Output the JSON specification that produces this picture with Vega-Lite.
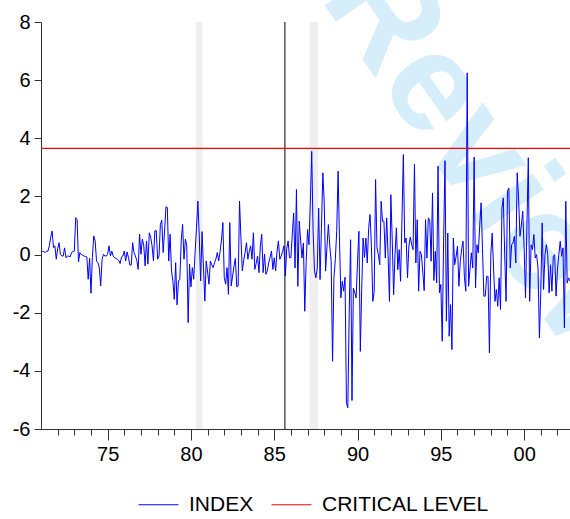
{
  "$schema": "https://vega.github.io/schema/vega-lite/v6.json",
  "width": 529,
  "height": 407,
  "autosize": {"type": "none"},
  "padding": {"left": 41, "top": 22, "right": 0, "bottom": 90},
  "background": "white",
  "config": {"view": {"stroke": null}, "font": "Liberation Sans"},
  "datasets": {
    "index": [
      {"t":1971,"v":0.12},{"t":1971.083,"v":0.11},{"t":1971.167,"v":0.10},{"t":1971.25,"v":0.07},{"t":1971.333,"v":0.12},{"t":1971.417,"v":0.12},{"t":1971.5,"v":0.3},{"t":1971.583,"v":0.6},{"t":1971.667,"v":0.81},{"t":1971.75,"v":0.24},{"t":1971.833,"v":0.30},{"t":1971.917,"v":-0.16},
      {"t":1972,"v":0.2},{"t":1972.083,"v":0.41},{"t":1972.167,"v":0.0},{"t":1972.25,"v":-0.05},{"t":1972.333,"v":-0.05},{"t":1972.417,"v":0.23},{"t":1972.5,"v":-0.11},{"t":1972.583,"v":-0.05},{"t":1972.667,"v":-0.05},{"t":1972.75,"v":-0.08},{"t":1972.833,"v":0.07},{"t":1972.917,"v":0.10},
      {"t":1973,"v":0.12},{"t":1973.083,"v":1.27},{"t":1973.167,"v":1.2},{"t":1973.25,"v":-0.25},{"t":1973.333,"v":0.07},{"t":1973.417,"v":0.0},{"t":1973.5,"v":-0.02},{"t":1973.583,"v":-0.05},{"t":1973.667,"v":-0.07},{"t":1973.75,"v":-0.08},{"t":1973.833,"v":-0.85},{"t":1973.917,"v":-0.13},
      {"t":1974,"v":-1.33},{"t":1974.083,"v":-0.1},{"t":1974.167,"v":0.64},{"t":1974.25,"v":0.47},{"t":1974.333,"v":-0.22},{"t":1974.417,"v":-0.28},{"t":1974.5,"v":-0.45},{"t":1974.583,"v":-1.08},{"t":1974.667,"v":-0.16},{"t":1974.75,"v":0.01},{"t":1974.833,"v":-0.05},{"t":1974.917,"v":-0.05},
      {"t":1975,"v":0.01},{"t":1975.083,"v":0.30},{"t":1975.167,"v":-0.05},{"t":1975.25,"v":0.12},{"t":1975.333,"v":-0.05},{"t":1975.417,"v":-0.11},{"t":1975.5,"v":-0.13},{"t":1975.583,"v":-0.16},{"t":1975.667,"v":-0.20},{"t":1975.75,"v":-0.31},{"t":1975.833,"v":-0.08},{"t":1975.917,"v":-0.05},
      {"t":1976,"v":0.12},{"t":1976.083,"v":-0.22},{"t":1976.167,"v":0.09},{"t":1976.25,"v":-0.1},{"t":1976.333,"v":-0.36},{"t":1976.417,"v":-0.36},{"t":1976.5,"v":0.41},{"t":1976.583,"v":0.07},{"t":1976.667,"v":-0.05},{"t":1976.75,"v":-0.2},{"t":1976.833,"v":-0.51},{"t":1976.917,"v":0.70},
      {"t":1977,"v":0.01},{"t":1977.083,"v":0.53},{"t":1977.167,"v":0.33},{"t":1977.25,"v":-0.39},{"t":1977.333,"v":0.47},{"t":1977.417,"v":-0.33},{"t":1977.5,"v":0.75},{"t":1977.583,"v":0.6},{"t":1977.667,"v":0.3},{"t":1977.75,"v":-0.22},{"t":1977.833,"v":0.81},{"t":1977.917,"v":0.83},
      {"t":1978,"v":-0.16},{"t":1978.083,"v":-0.05},{"t":1978.167,"v":1.04},{"t":1978.25,"v":1.18},{"t":1978.333,"v":0.07},{"t":1978.417,"v":0.81},{"t":1978.5,"v":1.64},{"t":1978.583,"v":1.62},{"t":1978.667,"v":-0.22},{"t":1978.75,"v":0.70},{"t":1978.833,"v":-0.56},{"t":1978.917,"v":-0.91},
      {"t":1979,"v":-1.54},{"t":1979.083,"v":-0.28},{"t":1979.167,"v":-1.73},{"t":1979.25,"v":-0.91},{"t":1979.333,"v":-0.85},{"t":1979.417,"v":0.47},{"t":1979.5,"v":1.04},{"t":1979.583,"v":-0.16},{"t":1979.667,"v":0.53},{"t":1979.75,"v":0.3},{"t":1979.833,"v":-2.34},{"t":1979.917,"v":-0.33},
      {"t":1980,"v":-1.11},{"t":1980.083,"v":-0.45},{"t":1980.167,"v":-0.85},{"t":1980.25,"v":0.07},{"t":1980.333,"v":0.9},{"t":1980.417,"v":1.84},{"t":1980.5,"v":0.64},{"t":1980.583,"v":-0.91},{"t":1980.667,"v":0.79},{"t":1980.75,"v":-0.4},{"t":1980.833,"v":-1.60},{"t":1980.917,"v":-0.22},
      {"t":1981,"v":-0.6},{"t":1981.083,"v":-1.02},{"t":1981.167,"v":-0.22},{"t":1981.25,"v":-0.35},{"t":1981.333,"v":-0.45},{"t":1981.417,"v":-0.28},{"t":1981.5,"v":-0.15},{"t":1981.583,"v":0.07},{"t":1981.667,"v":-0.22},{"t":1981.75,"v":0.1},{"t":1981.833,"v":0.5},{"t":1981.917,"v":1.10},
      {"t":1982,"v":-0.79},{"t":1982.083,"v":-1.02},{"t":1982.167,"v":-0.45},{"t":1982.25,"v":-1.37},{"t":1982.333,"v":1.10},{"t":1982.417,"v":-1.08},{"t":1982.5,"v":-0.74},{"t":1982.583,"v":-0.4},{"t":1982.667,"v":-0.13},{"t":1982.75,"v":-1.11},{"t":1982.833,"v":-1.08},{"t":1982.917,"v":1.84},
      {"t":1983,"v":0.6},{"t":1983.083,"v":-0.56},{"t":1983.167,"v":-0.2},{"t":1983.25,"v":0.07},{"t":1983.333,"v":0.41},{"t":1983.417,"v":-0.16},{"t":1983.5,"v":0.1},{"t":1983.583,"v":0.30},{"t":1983.667,"v":-0.16},{"t":1983.75,"v":0.75},{"t":1983.833,"v":-0.51},{"t":1983.917,"v":-0.3},
      {"t":1984,"v":-0.05},{"t":1984.083,"v":-0.62},{"t":1984.167,"v":0.3},{"t":1984.25,"v":0.70},{"t":1984.333,"v":-0.62},{"t":1984.417,"v":0.01},{"t":1984.5,"v":-0.68},{"t":1984.583,"v":-0.56},{"t":1984.667,"v":-0.28},{"t":1984.75,"v":-0.1},{"t":1984.833,"v":0.12},{"t":1984.917,"v":-0.51},
      {"t":1985,"v":-0.11},{"t":1985.083,"v":-0.56},{"t":1985.167,"v":0.1},{"t":1985.25,"v":0.47},{"t":1985.333,"v":-0.16},{"t":1985.417,"v":-0.05},{"t":1985.5,"v":0.1},{"t":1985.583,"v":0.30},{"t":1985.667,"v":-0.74},{"t":1985.75,"v":0.2},{"t":1985.833,"v":0.47},{"t":1985.917,"v":-0.11},
      {"t":1986,"v":-0.11},{"t":1986.083,"v":0.7},{"t":1986.167,"v":1.43},{"t":1986.25,"v":-0.46},{"t":1986.333,"v":2.24},{"t":1986.417,"v":-1.09},{"t":1986.5,"v":1.15},{"t":1986.583,"v":0.5},{"t":1986.667,"v":-0.12},{"t":1986.75,"v":0.40},{"t":1986.833,"v":-1.95},{"t":1986.917,"v":-0.23},
      {"t":1987,"v":0.86},{"t":1987.083,"v":0.34},{"t":1987.167,"v":1.8},{"t":1987.25,"v":3.55},{"t":1987.333,"v":0.8},{"t":1987.417,"v":-0.57},{"t":1987.5,"v":-0.80},{"t":1987.583,"v":-0.46},{"t":1987.667,"v":1.60},{"t":1987.75,"v":-0.86},{"t":1987.833,"v":0.9},{"t":1987.917,"v":2.81},
      {"t":1988,"v":1.8},{"t":1988.083,"v":-0.57},{"t":1988.167,"v":0.3},{"t":1988.25,"v":1.03},{"t":1988.333,"v":0.3},{"t":1988.417,"v":-0.23},{"t":1988.5,"v":-3.67},{"t":1988.583,"v":-0.8},{"t":1988.667,"v":-0.17},{"t":1988.75,"v":0.8},{"t":1988.833,"v":2.87},{"t":1988.917,"v":0.5},
      {"t":1989,"v":-1.49},{"t":1989.083,"v":-0.92},{"t":1989.167,"v":-1.26},{"t":1989.25,"v":-0.78},{"t":1989.333,"v":-5.10},{"t":1989.417,"v":-5.27},{"t":1989.5,"v":-2.0},{"t":1989.583,"v":0.51},{"t":1989.667,"v":-5.02},{"t":1989.75,"v":-1.15},{"t":1989.833,"v":-1.3},{"t":1989.917,"v":-1.49},
      {"t":1990,"v":-0.23},{"t":1990.083,"v":0.80},{"t":1990.167,"v":-3.33},{"t":1990.25,"v":-1.2},{"t":1990.333,"v":0.57},{"t":1990.417,"v":-0.1},{"t":1990.5,"v":0.57},{"t":1990.583,"v":-0.29},{"t":1990.667,"v":0.9},{"t":1990.75,"v":1.38},{"t":1990.833,"v":0.3},{"t":1990.917,"v":-1.61},
      {"t":1991,"v":-1.26},{"t":1991.083,"v":2.58},{"t":1991.167,"v":0.23},{"t":1991.25,"v":0.0},{"t":1991.333,"v":-0.35},{"t":1991.417,"v":1.83},{"t":1991.5,"v":1.15},{"t":1991.583,"v":1.15},{"t":1991.667,"v":-0.12},{"t":1991.75,"v":1.26},{"t":1991.833,"v":0.0},{"t":1991.917,"v":-1.61},
      {"t":1992,"v":2.06},{"t":1992.083,"v":0.5},{"t":1992.167,"v":-1.38},{"t":1992.25,"v":0.0},{"t":1992.333,"v":0.92},{"t":1992.417,"v":-0.52},{"t":1992.5,"v":0.17},{"t":1992.583,"v":-0.92},{"t":1992.667,"v":1.2},{"t":1992.75,"v":3.44},{"t":1992.833,"v":0.40},{"t":1992.917,"v":0.57},
      {"t":1993,"v":-0.80},{"t":1993.083,"v":0.3},{"t":1993.167,"v":0.6},{"t":1993.25,"v":0.34},{"t":1993.333,"v":0.17},{"t":1993.417,"v":3.10},{"t":1993.5,"v":-0.29},{"t":1993.583,"v":1.20},{"t":1993.667,"v":-1.26},{"t":1993.75,"v":0.11},{"t":1993.833,"v":0.0},{"t":1993.917,"v":-0.6},
      {"t":1994,"v":-1.24},{"t":1994.083,"v":1.2},{"t":1994.167,"v":-0.12},{"t":1994.25,"v":1.26},{"t":1994.333,"v":1.2},{"t":1994.417,"v":-0.23},{"t":1994.5,"v":2.12},{"t":1994.583,"v":-0.89},{"t":1994.667,"v":0.11},{"t":1994.75,"v":-0.98},{"t":1994.833,"v":3.04},{"t":1994.917,"v":-1.32},
      {"t":1995,"v":-1.03},{"t":1995.083,"v":-2.98},{"t":1995.167,"v":0.5},{"t":1995.25,"v":3.23},{"t":1995.333,"v":-2.29},{"t":1995.417,"v":0.74},{"t":1995.5,"v":-2.81},{"t":1995.583,"v":-1.72},{"t":1995.667,"v":-3.27},{"t":1995.75,"v":0.57},{"t":1995.833,"v":-0.35},{"t":1995.917,"v":-0.06},
      {"t":1996,"v":0.29},{"t":1996.083,"v":-1.09},{"t":1996.167,"v":-0.23},{"t":1996.25,"v":0.2},{"t":1996.333,"v":0.46},{"t":1996.417,"v":-0.80},{"t":1996.5,"v":-1.26},{"t":1996.583,"v":6.25},{"t":1996.667,"v":-1.09},{"t":1996.75,"v":-0.5},{"t":1996.833,"v":0.06},{"t":1996.917,"v":-0.46},
      {"t":1997,"v":3.35},{"t":1997.083,"v":-1.15},{"t":1997.167,"v":0.34},{"t":1997.25,"v":0.06},{"t":1997.333,"v":1.0},{"t":1997.417,"v":1.78},{"t":1997.5,"v":0.2},{"t":1997.583,"v":-1.43},{"t":1997.667,"v":-1.43},{"t":1997.75,"v":-0.75},{"t":1997.833,"v":-0.75},{"t":1997.917,"v":-3.38},
      {"t":1998,"v":0.0},{"t":1998.083,"v":0.74},{"t":1998.167,"v":-0.5},{"t":1998.25,"v":-1.61},{"t":1998.333,"v":-1.20},{"t":1998.417,"v":-1.78},{"t":1998.5,"v":-0.80},{"t":1998.583,"v":-1.89},{"t":1998.667,"v":1.60},{"t":1998.75,"v":1.95},{"t":1998.833,"v":0.0},{"t":1998.917,"v":-1.61},
      {"t":1999,"v":2.18},{"t":1999.083,"v":2.29},{"t":1999.167,"v":-0.46},{"t":1999.25,"v":0.34},{"t":1999.333,"v":0.40},{"t":1999.417,"v":0.63},{"t":1999.5,"v":-0.29},{"t":1999.583,"v":2.81},{"t":1999.667,"v":1.95},{"t":1999.75,"v":0.63},{"t":1999.833,"v":1.0},{"t":1999.917,"v":1.49},
      {"t":2000,"v":0.23},{"t":2000.083,"v":-1.49},{"t":2000.167,"v":1.0},{"t":2000.25,"v":3.33},{"t":2000.333,"v":-1.61},{"t":2000.417,"v":0.34},{"t":2000.5,"v":0.17},{"t":2000.583,"v":0.69},{"t":2000.667,"v":-0.12},{"t":2000.75,"v":0.0},{"t":2000.833,"v":-0.46},{"t":2000.917,"v":-2.87},
      {"t":2001,"v":-1.26},{"t":2001.083,"v":1.09},{"t":2001.167,"v":-1.20},{"t":2001.25,"v":0.0},{"t":2001.333,"v":0.34},{"t":2001.417,"v":0.0},{"t":2001.5,"v":-1.32},{"t":2001.583,"v":-0.35},{"t":2001.667,"v":-1.26},{"t":2001.75,"v":-0.06},{"t":2001.833,"v":0.0},{"t":2001.917,"v":-1.43},
      {"t":2002,"v":-0.5},{"t":2002.083,"v":0.0},{"t":2002.167,"v":0.46},{"t":2002.25,"v":-0.06},{"t":2002.333,"v":0.23},{"t":2002.417,"v":-2.52},{"t":2002.5,"v":1.83},{"t":2002.583,"v":-0.98},{"t":2002.667,"v":-0.80},{"t":2002.75,"v":-0.92}
    ],
    "shades": [
      {"s": 1980.29, "e": 1980.70},
      {"s": 1987.11, "e": 1987.63}
    ],
    "marker": [{"label": "Review", "t": 1998.07, "v": 2.87}],
    "breakline": [{"t": 1985.64}],
    "critical": [{"v": 3.65}]
  },
  "layer": [
    {
      "data": {"name": "marker"},
      "mark": {"type": "text", "angle": 55, "fontSize": 140, "fontWeight": "bold", "font": "Liberation Sans", "color": "#d5eefa", "align": "center", "baseline": "middle"},
      "encoding": {
        "x": {"field": "t", "type": "quantitative", "title": null},
        "y": {"field": "v", "type": "quantitative", "title": null},
        "text": {"field": "label"}
      }
    },
    {
      "data": {"name": "shades"},
      "mark": {"type": "rect", "color": "#efefef"},
      "encoding": {
        "x": {"field": "s", "type": "quantitative", "title": null},
        "x2": {"field": "e"}
      }
    },
    {
      "data": {"name": "breakline"},
      "mark": {"type": "rule", "color": "#000000", "strokeWidth": 1},
      "encoding": {
        "x": {"field": "t", "type": "quantitative", "title": null}
      }
    },
    {
      "data": {"name": "index"},
      "mark": {"type": "line", "strokeWidth": 1},
      "encoding": {
        "x": {
          "field": "t", "type": "quantitative", "title": null,
          "scale": {"domain": [1971, 2002.753], "nice": false, "zero": false},
          "axis": {
            "values": [1972,1973,1974,1975,1976,1977,1978,1979,1980,1981,1982,1983,1984,1985,1986,1987,1988,1989,1990,1991,1992,1993,1994,1995,1996,1997,1998,1999,2000,2001,2002],
            "tickCount": 100,
            "labelExpr": "datum.value % 5 == 0 ? substring(toString(datum.value), 2, 4) : ''",
            "tickSize": {"condition": {"test": "datum.value % 5 == 0", "value": 11}, "value": 6},
            "labelPadding": 4,
            "labelFontSize": 20,
            "labelFont": "Liberation Sans",
            "labelColor": "#000000",
            "labelOverlap": false,
            "labelFlush": false,
            "domainColor": "#333333",
            "tickColor": "#333333",
            "grid": false
          }
        },
        "y": {
          "field": "v", "type": "quantitative", "title": null,
          "scale": {"domain": [-6, 8], "nice": false, "zero": false},
          "axis": {
            "values": [-6, -4, -2, 0, 2, 4, 6, 8],
            "tickCount": 100,
            "labelExpr": "toString(datum.value)",
            "tickSize": 7,
            "labelPadding": 4,
            "labelFontSize": 20,
            "labelFont": "Liberation Sans",
            "labelColor": "#000000",
            "labelOverlap": false,
            "domainColor": "#333333",
            "tickColor": "#333333",
            "grid": false
          }
        },
        "color": {
          "datum": "INDEX",
          "scale": {"domain": ["INDEX", "CRITICAL LEVEL"], "range": ["#0000ff", "#ff0000"]},
          "legend": {
            "orient": "none", "legendX": 97, "legendY": 462,
            "direction": "horizontal", "title": null,
            "symbolType": "stroke", "symbolSize": 1600, "symbolStrokeWidth": 1,
            "labelFontSize": 21, "labelFont": "Liberation Sans", "labelColor": "#000000",
            "labelOffset": 10, "columnPadding": 15, "labelLimit": 400
          }
        }
      }
    },
    {
      "data": {"name": "critical"},
      "mark": {"type": "rule", "strokeWidth": 1.2},
      "encoding": {
        "y": {"field": "v", "type": "quantitative", "title": null},
        "color": {"datum": "CRITICAL LEVEL"}
      }
    }
  ]
}
